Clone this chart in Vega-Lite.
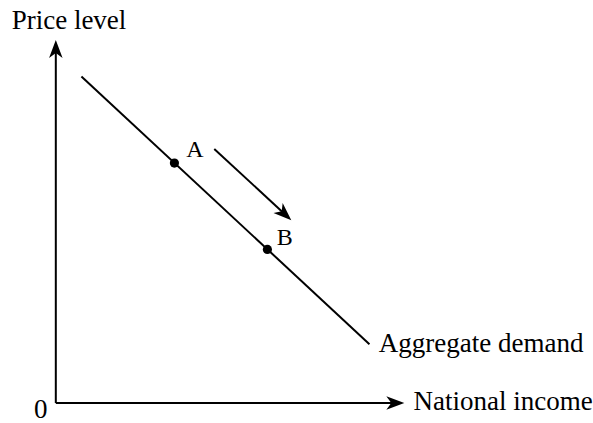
{
  "$schema": "https://vega.github.io/schema/vega-lite/v6.json",
  "width": 593,
  "height": 423,
  "padding": 0,
  "autosize": {"type": "fit", "contains": "padding"},
  "background": "white",
  "config": {"view": {"stroke": null}},
  "datasets": {
    "segments": [
      {"seg": "price axis", "x": 0, "y": 0, "order": 0},
      {"seg": "price axis", "x": 0, "y": 356, "order": 1},
      {"seg": "income axis", "x": 0, "y": 0, "order": 0},
      {"seg": "income axis", "x": 341, "y": 0, "order": 1},
      {"seg": "aggregate demand", "x": 25.7, "y": 327.3, "order": 0},
      {"seg": "aggregate demand", "x": 314.7, "y": 59, "order": 1},
      {"seg": "movement", "x": 159, "y": 254.7, "order": 0},
      {"seg": "movement", "x": 230.4, "y": 188.8, "order": 1}
    ],
    "heads": [
      {"direction": "up", "x": 0, "y": 364},
      {"direction": "right", "x": 349.7, "y": 0},
      {"direction": "down-right", "x": 236.3, "y": 183.3}
    ],
    "points": [
      {"label": "A", "x": 119, "y": 240.5},
      {"label": "B", "x": 212.3, "y": 154}
    ],
    "labels": [
      {"kind": "big", "text": "Price level", "x": -44.3, "y": 374.7},
      {"kind": "big", "text": "0", "x": -22, "y": -15},
      {"kind": "big", "text": "Aggregate demand", "x": 324, "y": 50.7},
      {"kind": "big", "text": "National income", "x": 359, "y": -7},
      {"kind": "small", "text": "A", "x": 131, "y": 246.3},
      {"kind": "small", "text": "B", "x": 221.7, "y": 158}
    ]
  },
  "layer": [
    {
      "data": {"name": "segments"},
      "mark": {"type": "line", "color": "black", "strokeWidth": 2},
      "encoding": {
        "x": {"field": "x", "type": "quantitative", "scale": {"domain": [-56, 537], "nice": false, "zero": false}, "axis": null},
        "y": {"field": "y", "type": "quantitative", "scale": {"domain": [-19, 404], "nice": false, "zero": false}, "axis": null},
        "detail": {"field": "seg"},
        "order": {"field": "order"}
      }
    },
    {
      "data": {"name": "heads"},
      "transform": [{"filter": "datum.direction === 'up'"}],
      "mark": {"type": "point", "filled": true, "color": "black", "opacity": 1, "size": 324, "angle": 0, "shape": "M0,0 L0.75,2 L0,1.45 L-0.75,2 Z"},
      "encoding": {
        "x": {"field": "x", "type": "quantitative", "scale": {"domain": [-56, 537], "nice": false, "zero": false}, "axis": null},
        "y": {"field": "y", "type": "quantitative", "scale": {"domain": [-19, 404], "nice": false, "zero": false}, "axis": null}
      }
    },
    {
      "data": {"name": "heads"},
      "transform": [{"filter": "datum.direction === 'right'"}],
      "mark": {"type": "point", "filled": true, "color": "black", "opacity": 1, "size": 324, "angle": 90, "shape": "M0,0 L0.75,2 L0,1.45 L-0.75,2 Z"},
      "encoding": {
        "x": {"field": "x", "type": "quantitative", "scale": {"domain": [-56, 537], "nice": false, "zero": false}, "axis": null},
        "y": {"field": "y", "type": "quantitative", "scale": {"domain": [-19, 404], "nice": false, "zero": false}, "axis": null}
      }
    },
    {
      "data": {"name": "heads"},
      "transform": [{"filter": "datum.direction === 'down-right'"}],
      "mark": {"type": "point", "filled": true, "color": "black", "opacity": 1, "size": 324, "angle": 132.7, "shape": "M0,0 L0.75,2 L0,1.45 L-0.75,2 Z"},
      "encoding": {
        "x": {"field": "x", "type": "quantitative", "scale": {"domain": [-56, 537], "nice": false, "zero": false}, "axis": null},
        "y": {"field": "y", "type": "quantitative", "scale": {"domain": [-19, 404], "nice": false, "zero": false}, "axis": null}
      }
    },
    {
      "data": {"name": "points"},
      "mark": {"type": "circle", "color": "black", "opacity": 1, "size": 85},
      "encoding": {
        "x": {"field": "x", "type": "quantitative", "scale": {"domain": [-56, 537], "nice": false, "zero": false}, "axis": null},
        "y": {"field": "y", "type": "quantitative", "scale": {"domain": [-19, 404], "nice": false, "zero": false}, "axis": null}
      }
    },
    {
      "data": {"name": "labels"},
      "transform": [{"filter": "datum.kind === 'big'"}],
      "mark": {"type": "text", "font": "Liberation Serif", "fontSize": 27, "color": "black", "align": "left", "baseline": "alphabetic"},
      "encoding": {
        "x": {"field": "x", "type": "quantitative", "scale": {"domain": [-56, 537], "nice": false, "zero": false}, "axis": null},
        "y": {"field": "y", "type": "quantitative", "scale": {"domain": [-19, 404], "nice": false, "zero": false}, "axis": null},
        "text": {"field": "text"}
      }
    },
    {
      "data": {"name": "labels"},
      "transform": [{"filter": "datum.kind === 'small'"}],
      "mark": {"type": "text", "font": "Liberation Serif", "fontSize": 24, "color": "black", "align": "left", "baseline": "alphabetic"},
      "encoding": {
        "x": {"field": "x", "type": "quantitative", "scale": {"domain": [-56, 537], "nice": false, "zero": false}, "axis": null},
        "y": {"field": "y", "type": "quantitative", "scale": {"domain": [-19, 404], "nice": false, "zero": false}, "axis": null},
        "text": {"field": "text"}
      }
    }
  ]
}
